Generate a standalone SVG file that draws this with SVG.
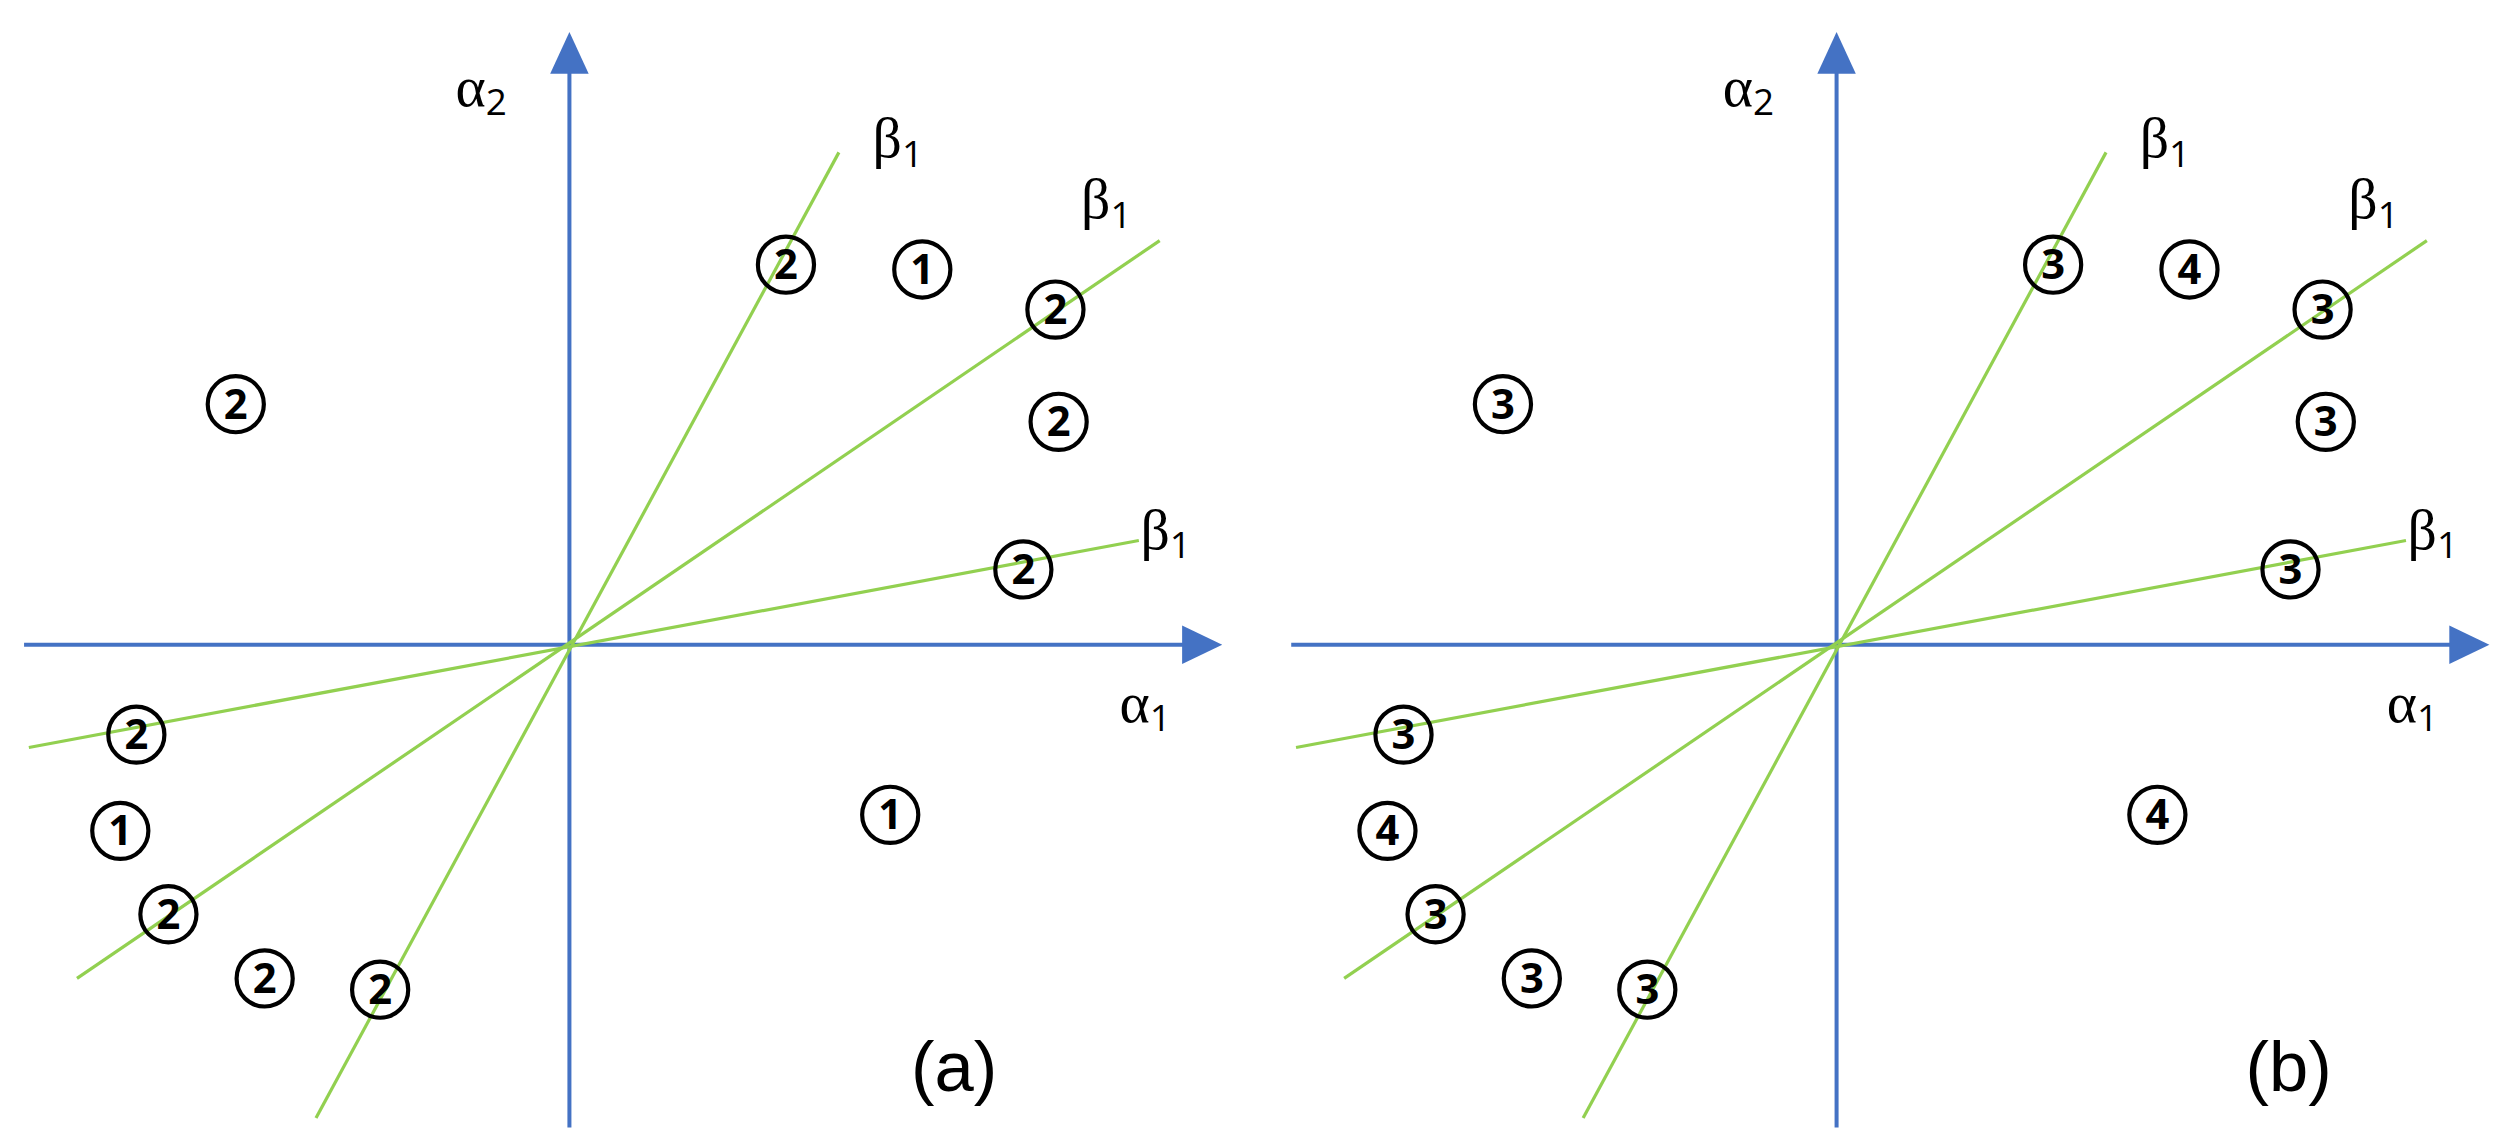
<svg xmlns="http://www.w3.org/2000/svg" width="2515" height="1148" viewBox="0 0 2515 1148">
<style>
.ax{stroke:#4472C4;stroke-width:2.5;fill:none}
.ah{fill:#4472C4}
.gl{stroke:#92D050;stroke-width:2;fill:none}
.c circle{fill:none;stroke:#000;stroke-width:2.6}
.c text{font-family:"Open Sans","Liberation Sans",sans-serif;font-weight:bold;font-size:26px;text-anchor:middle}
.lb{font-family:"Liberation Serif",serif;font-size:36px}
.sb{font-family:"Open Sans",sans-serif;font-size:23px}
.pl{font-family:"Liberation Sans",sans-serif;font-size:44px}
</style>
<rect width="2515" height="1148" fill="#fff"/>
<defs>
<g id="panel">
<g id="connectors">
<line class="ax" x1="355" y1="703" x2="355" y2="42"/>
<polygon class="ah" points="343,46 367,46 355,20"/>
<line class="ax" x1="15" y1="402" x2="740" y2="402"/>
<polygon class="ah" points="737,390 737,414 762,402"/>
<line class="gl" x1="523" y1="95" x2="197" y2="697"/>
<line class="gl" x1="723" y1="150" x2="48" y2="610"/>
<line class="gl" x1="710" y1="337" x2="18" y2="466"/>
</g>
<text class="lb" x="284" y="66">α<tspan class="sb" dy="6">2</tspan></text>
<text class="lb" x="698" y="450">α<tspan class="sb" dy="6">1</tspan></text>
<text class="lb" x="544" y="98">β<tspan class="sb" dy="6">1</tspan></text>
<text class="lb" x="674" y="136">β<tspan class="sb" dy="6">1</tspan></text>
<text class="lb" x="711" y="342">β<tspan class="sb" dy="6">1</tspan></text>
</g>
</defs>
<g transform="scale(1.604)">
<use href="#panel"/>
<use href="#panel" x="790"/>
<g id="nodes-a" class="c">
<g id="a1"><circle cx="490" cy="165" r="17.5"/><text x="490" y="174">2</text></g>
<g id="a2"><circle cx="575" cy="168" r="17.5"/><text x="575" y="177">1</text></g>
<g id="a3"><circle cx="658" cy="193" r="17.5"/><text x="658" y="202">2</text></g>
<g id="a4"><circle cx="147" cy="252" r="17.5"/><text x="147" y="261">2</text></g>
<g id="a5"><circle cx="660" cy="263" r="17.5"/><text x="660" y="272">2</text></g>
<g id="a6"><circle cx="638" cy="355" r="17.5"/><text x="638" y="364">2</text></g>
<g id="a7"><circle cx="85" cy="458" r="17.5"/><text x="85" y="467">2</text></g>
<g id="a8"><circle cx="75" cy="518" r="17.5"/><text x="75" y="527">1</text></g>
<g id="a9"><circle cx="105" cy="570" r="17.5"/><text x="105" y="579">2</text></g>
<g id="a10"><circle cx="165" cy="610" r="17.5"/><text x="165" y="619">2</text></g>
<g id="a11"><circle cx="237" cy="617" r="17.5"/><text x="237" y="626">2</text></g>
<g id="a12"><circle cx="555" cy="508" r="17.5"/><text x="555" y="517">1</text></g>
</g>
<g id="nodes-b" class="c" transform="translate(790,0)">
<g id="b1"><circle cx="490" cy="165" r="17.5"/><text x="490" y="174">3</text></g>
<g id="b2"><circle cx="575" cy="168" r="17.5"/><text x="575" y="177">4</text></g>
<g id="b3"><circle cx="658" cy="193" r="17.5"/><text x="658" y="202">3</text></g>
<g id="b4"><circle cx="147" cy="252" r="17.5"/><text x="147" y="261">3</text></g>
<g id="b5"><circle cx="660" cy="263" r="17.5"/><text x="660" y="272">3</text></g>
<g id="b6"><circle cx="638" cy="355" r="17.5"/><text x="638" y="364">3</text></g>
<g id="b7"><circle cx="85" cy="458" r="17.5"/><text x="85" y="467">3</text></g>
<g id="b8"><circle cx="75" cy="518" r="17.5"/><text x="75" y="527">4</text></g>
<g id="b9"><circle cx="105" cy="570" r="17.5"/><text x="105" y="579">3</text></g>
<g id="b10"><circle cx="165" cy="610" r="17.5"/><text x="165" y="619">3</text></g>
<g id="b11"><circle cx="237" cy="617" r="17.5"/><text x="237" y="626">3</text></g>
<g id="b12"><circle cx="555" cy="508" r="17.5"/><text x="555" y="517">4</text></g>
</g>
<text class="pl" x="568" y="680">(a)</text>
<text class="pl" x="1400" y="680">(b)</text>
</g>
</svg>
